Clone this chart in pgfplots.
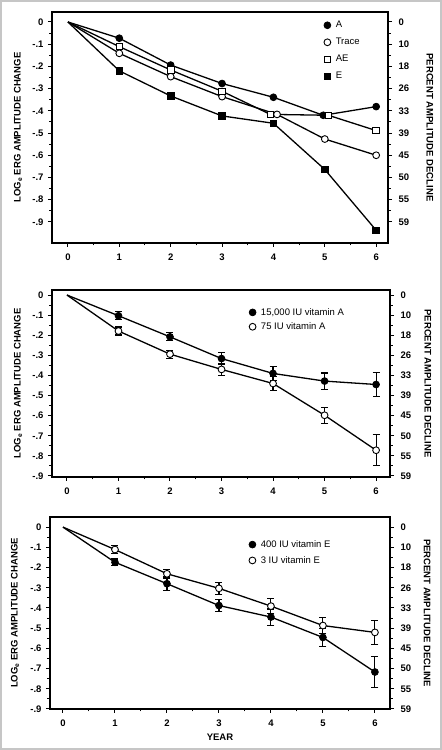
\documentclass[border=0pt]{standalone}
\usepackage{pgfplots}
\pgfplotsset{compat=1.18}
\usepackage{fontspec}
\setmainfont{Liberation Sans}
\newcommand\ff{\fontsize{9.5bp}{11.5bp}\selectfont\bfseries}
\newcommand\fl{\fontsize{9.5bp}{11.5bp}\selectfont}
\pgfplotsset{
 base/.style={
  scale only axis, anchor=south west,
  font=\ff,
  tick align=outside,
  major tick length=4bp, minor tick length=2.5bp,
  every tick/.style={black, line width=1bp},
  axis line style={line width=1.1bp},
  xtick={0,1,2,3,4,5,6}, xticklabels={0,1,2,3,4,5,6},
  minor x tick num=1, minor y tick num=1,
  ytick={0,-0.1,-0.2,-0.3,-0.4,-0.5,-0.6,-0.7,-0.8,-0.9},
  yticklabels={0,-.1,-.2,-.3,-.4,-.5,-.6,-.7,-.8,-.9},
  xticklabel style={yshift=-3bp},
  yticklabel style={xshift=-1bp},
  legend cell align=left,
  legend image code/.code={\draw[##1] plot coordinates {(0bp,0bp)};},
 },
 left/.style={base, tick pos=left},
 right/.style={base, hide x axis, ytick pos=right, yticklabel pos=right,
  yticklabels={0,10,18,26,33,39,45,50,55,59},
  yticklabel style={xshift=4bp},
  ylabel={PERCENT AMPLITUDE DECLINE}},
 ln/.style={black, line width=1.3bp},
 fc/.style={black, mark=*, mark size=3.4bp, mark options={fill=black, solid, line width=0.8bp}},
 oc/.style={black, mark=*, mark size=3.4bp, mark options={fill=white, solid, line width=0.9bp}},
 fs/.style={black, mark=square*, mark size=3.3bp, mark options={fill=black, solid, line width=0.8bp}},
 os/.style={black, mark=square*, mark size=3.3bp, mark options={fill=white, solid, line width=0.9bp}},
 eb/.style={only marks, error bars/y dir=both, error bars/y explicit,
  error bars/error bar style={line width=1.1bp, black},
  error bars/error mark options={rotate=90, mark size=3.5bp, line width=1.1bp, black}},
}
\begin{document}
\begin{tikzpicture}
\useasboundingbox (0,0) rectangle (442bp,750bp);
\fill[white] (0,0) rectangle (442bp,750bp);
\draw[gray!45, line width=2bp] (1bp,1bp) rectangle (441bp,749bp);
% ---------------- Panel 1 ----------------
\begin{axis}[left, at={(52bp,507bp)}, width=336bp, height=231bp,
  xmin=-0.31, xmax=6.23, ymin=-0.995, ymax=0.045,
  ylabel={LOG\textsubscript{e} ERG AMPLITUDE CHANGE},
  ylabel style={at={(axis description cs:-0.101,0.5)}, anchor=center},
  legend style={at={(axis description cs:0.80,0.978)}, anchor=north west, draw=none, fill=none,
    row sep=5bp, column sep=3bp, font=\fl}]
\addplot[ln, fc, forget plot, mark indices={2,3,4,5,6,7}] coordinates {(0,0) (1,-0.073) (2,-0.194) (3,-0.277) (4,-0.339) (4.97,-0.42) (6,-0.381)};
\addplot[ln, oc, forget plot, mark indices={2,3,4,5,6,7}] coordinates {(0,0) (1,-0.141) (2,-0.246) (3,-0.336) (4.07,-0.416) (5,-0.527) (6,-0.6)};
\addplot[ln, os, forget plot, mark indices={2,3,4,5,6,7}] coordinates {(0,0) (1,-0.111) (2,-0.216) (3,-0.312) (3.94,-0.416) (5.07,-0.42) (6,-0.489)};
\addplot[ln, fs, forget plot, mark indices={2,3,4,5,6,7}] coordinates {(0,0) (1,-0.22) (2,-0.333) (3,-0.423) (4,-0.456) (5,-0.664) (6,-0.938)};
\addlegendimage{only marks, fc}\addlegendentry{A}
\addlegendimage{only marks, oc}\addlegendentry{Trace}
\addlegendimage{only marks, os}\addlegendentry{AE}
\addlegendimage{only marks, fs}\addlegendentry{E}
\end{axis}
\begin{axis}[right, at={(52bp,507bp)}, width=336bp, height=231bp,
  xmin=-0.31, xmax=6.23, ymin=-0.995, ymax=0.045,
  ylabel style={at={(axis description cs:1.125,0.5)}, anchor=center, rotate=180}]
\end{axis}
% ---------------- Panel 2 ----------------
\begin{axis}[left, at={(52bp,273bp)}, width=338bp, height=187bp,
  xmin=-0.29, xmax=6.27, ymin=-0.905, ymax=0.025,
  ylabel={LOG\textsubscript{e} ERG AMPLITUDE CHANGE},
  ylabel style={at={(axis description cs:-0.1,0.5)}, anchor=center},
  legend style={at={(axis description cs:0.574,0.925)}, anchor=north west, draw=none, fill=none,
    row sep=2bp, column sep=3bp, font=\fl}]
\addplot[ln, no marks, forget plot] coordinates {(0,0) (1,-0.103) (2,-0.208) (3,-0.316) (4,-0.39) (5,-0.428) (6,-0.445)};
\addplot[ln, no marks, forget plot] coordinates {(0,0) (1,-0.179) (2,-0.294) (3,-0.37) (4,-0.44) (5,-0.598) (6,-0.772)};
\addplot[fc, eb, forget plot] table[x=x, y=y, y error=e] {
x y e
1 -0.103 0.02
2 -0.208 0.02
3 -0.316 0.03
4 -0.39 0.033
5 -0.428 0.04
6 -0.445 0.06
};
\addplot[oc, eb, forget plot] table[x=x, y=y, y error=e] {
x y e
1 -0.179 0.02
2 -0.294 0.02
3 -0.37 0.03
4 -0.44 0.035
5 -0.598 0.04
6 -0.772 0.077
};
\addlegendimage{only marks, fc}\addlegendentry{15,000 IU vitamin A}
\addlegendimage{only marks, oc}\addlegendentry{75 IU vitamin A}
\end{axis}
\begin{axis}[right, at={(52bp,273bp)}, width=338bp, height=187bp,
  xmin=-0.29, xmax=6.27, ymin=-0.905, ymax=0.025,
  ylabel style={at={(axis description cs:1.112,0.5)}, anchor=center, rotate=180}]
\end{axis}
% ---------------- Panel 3 ----------------
\begin{axis}[left, at={(50bp,41bp)}, width=340bp, height=192bp,
  xmin=-0.25, xmax=6.29, ymin=-0.9, ymax=0.05,
  xlabel={YEAR}, xlabel style={at={(axis description cs:0.5,-0.145)}, anchor=center},
  ylabel={LOG\textsubscript{e} ERG AMPLITUDE CHANGE},
  ylabel style={at={(axis description cs:-0.103,0.5)}, anchor=center},
  legend style={at={(axis description cs:0.576,0.90)}, anchor=north west, draw=none, fill=none,
    row sep=3.5bp, column sep=3bp, font=\fl}]
\addplot[ln, no marks, forget plot] coordinates {(0,0) (1,-0.174) (2,-0.28) (3,-0.388) (4,-0.445) (5,-0.546) (6,-0.717)};
\addplot[ln, no marks, forget plot] coordinates {(0,0) (1,-0.111) (2,-0.231) (3,-0.303) (4,-0.391) (5,-0.487) (6,-0.521)};
\addplot[fc, eb, forget plot] table[x=x, y=y, y error=e] {
x y e
1 -0.174 0.016
2 -0.28 0.033
3 -0.388 0.03
4 -0.445 0.04
5 -0.546 0.046
6 -0.717 0.075
};
\addplot[oc, eb, forget plot] table[x=x, y=y, y error=e] {
x y e
1 -0.111 0.02
2 -0.231 0.022
3 -0.303 0.03
4 -0.391 0.036
5 -0.487 0.04
6 -0.521 0.06
};
\addlegendimage{only marks, fc}\addlegendentry{400 IU vitamin E}
\addlegendimage{only marks, oc}\addlegendentry{3 IU vitamin E}
\end{axis}
\begin{axis}[right, at={(50bp,41bp)}, width=340bp, height=192bp,
  xmin=-0.25, xmax=6.29, ymin=-0.9, ymax=0.05,
  ylabel style={at={(axis description cs:1.109,0.5)}, anchor=center, rotate=180}]
\end{axis}
\end{tikzpicture}
\end{document}
